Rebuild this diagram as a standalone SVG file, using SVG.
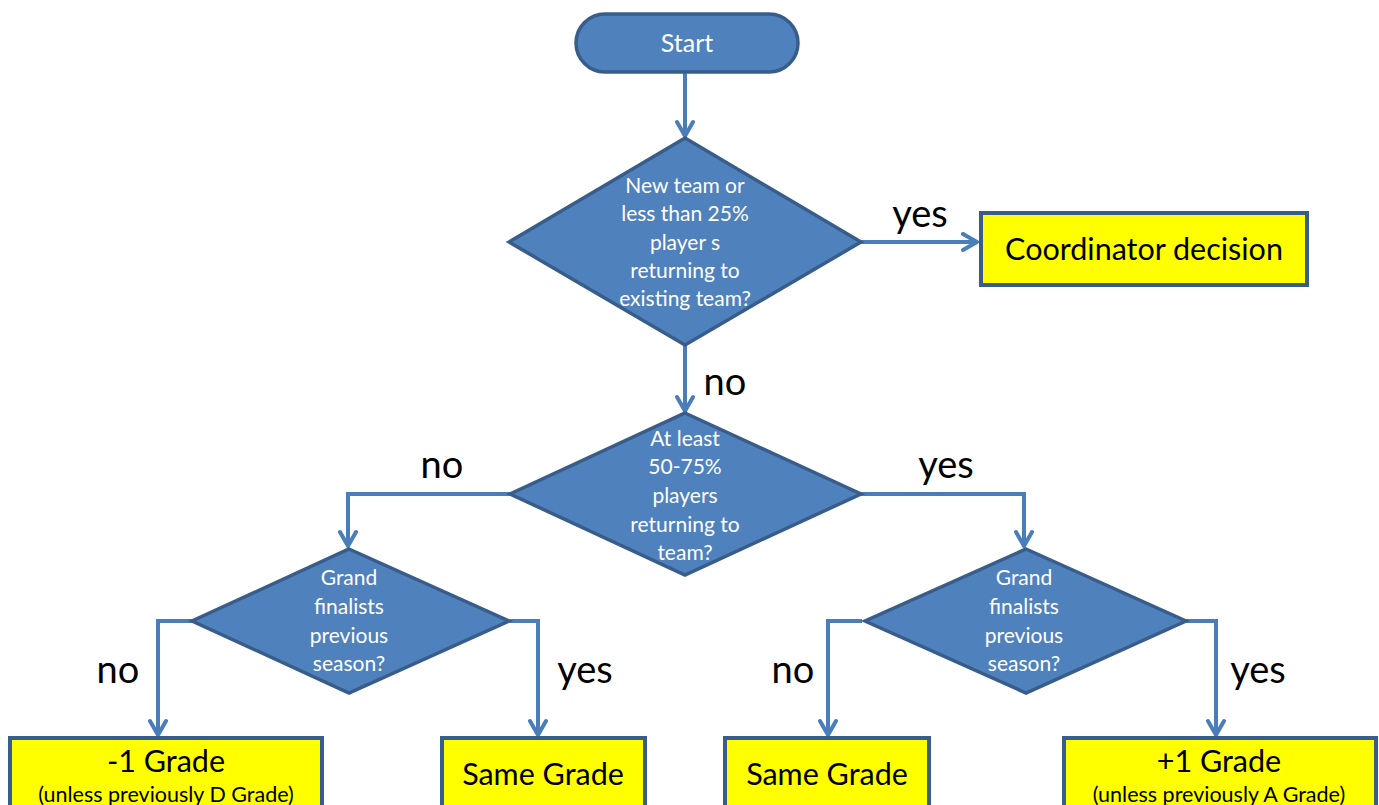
<svg xmlns="http://www.w3.org/2000/svg" width="1379" height="805" viewBox="0 0 1379 805">
<defs>
<style>
.dec{fill:#4f81bd;stroke:#385d8a;stroke-width:3.5;stroke-linejoin:miter}
.box{fill:#ffff00;stroke:#385d8a;stroke-width:4}
.wt{font-family:Lato,"Open Sans","Liberation Sans",sans-serif;fill:#ffffff;font-size:21px;text-anchor:middle}
.bt{font-family:Lato,"Open Sans","Liberation Sans",sans-serif;fill:#000000;text-anchor:middle}
.lbl{font-family:Lato,"Open Sans","Liberation Sans",sans-serif;fill:#000000;font-size:38px;text-anchor:middle}
.con{fill:none;stroke:#4a7ebb;stroke-width:4}
</style>
<marker id="arr" viewBox="0 0 20 20" refX="18" refY="10" markerWidth="20" markerHeight="20" markerUnits="userSpaceOnUse" orient="auto">
<path d="M4,2 L18,10 L4,18" fill="none" stroke="#4a7ebb" stroke-width="4" stroke-linecap="round" stroke-linejoin="round"/>
</marker>
</defs>
<rect width="1379" height="805" fill="#ffffff"/>
<g id="connectors">
<line class="con" x1="685" y1="72" x2="685" y2="136" marker-end="url(#arr)"/>
<line class="con" x1="861" y1="242" x2="977" y2="242" marker-end="url(#arr)"/>
<line class="con" x1="685" y1="345" x2="685" y2="411" marker-end="url(#arr)"/>
<polyline class="con" points="510,494 348,494 348,546" marker-end="url(#arr)"/>
<polyline class="con" points="861,494 1024,494 1024,546" marker-end="url(#arr)"/>
<polyline class="con" points="192,621 158,621 158,735" marker-end="url(#arr)"/>
<polyline class="con" points="509,621 538,621 538,735" marker-end="url(#arr)"/>
<polyline class="con" points="862,621 828,621 828,735" marker-end="url(#arr)"/>
<polyline class="con" points="1186,621 1216,621 1216,735" marker-end="url(#arr)"/>
<text class="lbl" x="920" y="227">yes</text>
<text class="lbl" x="725" y="395">no</text>
<text class="lbl" x="442" y="478">no</text>
<text class="lbl" x="946" y="478">yes</text>
<text class="lbl" x="118" y="683">no</text>
<text class="lbl" x="585" y="683">yes</text>
<text class="lbl" x="793" y="683">no</text>
<text class="lbl" x="1258" y="683">yes</text>
</g>
<g id="start">
<rect x="576" y="14" width="222" height="58" rx="29" ry="29" class="dec"/>
<text class="wt" x="687" y="52" style="font-size:25px">Start</text>
</g>
<g id="decision1">
<polygon class="dec" points="685,138 861,242 685,345 509,242"/>
<text class="wt" x="685" y="193">New team or</text>
<text class="wt" x="685" y="221">less than 25%</text>
<text class="wt" x="685" y="250">player s</text>
<text class="wt" x="685" y="278">returning to</text>
<text class="wt" x="685" y="306">existing team?</text>
</g>
<g id="coordinator">
<rect class="box" x="981" y="213" width="326" height="72"/>
<text class="bt" x="1144" y="260" style="font-size:30.5px">Coordinator decision</text>
</g>
<g id="decision2">
<polygon class="dec" points="685,413 861,494 685,575 510,494"/>
<text class="wt" x="685" y="446">At least</text>
<text class="wt" x="685" y="474">50-75%</text>
<text class="wt" x="685" y="503">players</text>
<text class="wt" x="685" y="532">returning to</text>
<text class="wt" x="685" y="560">team?</text>
</g>
<g id="decision3">
<polygon class="dec" points="349,549 509,621 349,693 192,621"/>
<text class="wt" x="349" y="585">Grand</text>
<text class="wt" x="349" y="614">finalists</text>
<text class="wt" x="349" y="643">previous</text>
<text class="wt" x="349" y="671">season?</text>
</g>
<g id="decision4">
<polygon class="dec" points="1026,549 1186,621 1026,693 865,621"/>
<text class="wt" x="1024" y="585">Grand</text>
<text class="wt" x="1024" y="614">finalists</text>
<text class="wt" x="1024" y="643">previous</text>
<text class="wt" x="1024" y="671">season?</text>
</g>
<g id="minus1">
<rect class="box" x="10" y="738" width="312" height="90"/>
<text class="bt" x="166" y="772" style="font-size:30.5px">-1 Grade</text>
<text class="bt" x="166" y="802" style="font-size:21.5px">(unless previously D Grade)</text>
</g>
<g id="same1">
<rect class="box" x="442" y="738" width="203" height="90"/>
<text class="bt" x="543" y="785" style="font-size:30.5px">Same Grade</text>
</g>
<g id="same2">
<rect class="box" x="725" y="738" width="204" height="90"/>
<text class="bt" x="827" y="785" style="font-size:30.5px">Same Grade</text>
</g>
<g id="plus1">
<rect class="box" x="1064" y="738" width="312" height="90"/>
<text class="bt" x="1219" y="772" style="font-size:30.5px">+1 Grade</text>
<text class="bt" x="1219" y="802" style="font-size:21.5px">(unless previously A Grade)</text>
</g>
</svg>
